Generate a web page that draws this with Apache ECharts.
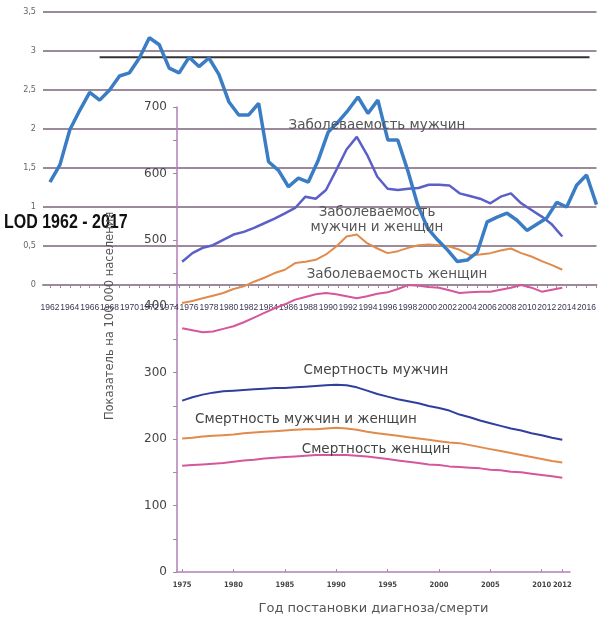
<!DOCTYPE html>
<html><head><meta charset="utf-8">
<script src="https://cdn.jsdelivr.net/npm/echarts@6/dist/echarts.min.js"></script>
<style>html,body{margin:0;padding:0;background:#fff}#c{width:599px;height:624px}</style>
</head><body><div id="c"></div>
<script>
// ---- Outer chart: LOD 1962-2017 ----
const lodYears = [1962,1963,1964,1965,1966,1967,1968,1969,1970,1971,1972,1973,1974,1975,1976,1977,1978,1979,1980,1981,1982,1983,1984,1985,1986,1987,1988,1989,1990,1991,1992,1993,1994,1995,1996,1997,1998,1999,2000,2001,2002,2003,2004,2005,2006,2007,2008,2009,2010,2011,2012,2013,2014,2015,2016,2017];
const lodValues = [1.32,1.54,1.99,2.24,2.47,2.37,2.5,2.68,2.72,2.91,3.17,3.08,2.78,2.72,2.92,2.8,2.91,2.7,2.35,2.18,2.18,2.33,1.58,1.47,1.26,1.37,1.32,1.6,1.96,2.09,2.24,2.41,2.2,2.37,1.86,1.86,1.47,1.03,0.73,0.58,0.45,0.3,0.32,0.42,0.81,0.87,0.92,0.83,0.7,0.78,0.86,1.06,1.0,1.28,1.41,1.03];
const refLineYears = [1967, 2016.3];
const refLineValue = 2.92;
const outerTickLabels = [1962,1964,1966,1968,1970,1972,1974,1976,1978,1980,1982,1984,1986,1988,1990,1992,1994,1996,1998,2000,2002,2004,2006,2008,2010,2012,2014,2016];

// ---- Inner chart: incidence / mortality per 100 000 ----
const innerYears = [1975,1976,1977,1978,1979,1980,1981,1982,1983,1984,1985,1986,1987,1988,1989,1990,1991,1992,1993,1994,1995,1996,1997,1998,1999,2000,2001,2002,2003,2004,2005,2006,2007,2008,2009,2010,2011,2012];
const incMen   = [467,480,488,492,500,508,512,518,525,532,540,548,565,562,575,605,636,655,628,595,577,575,577,578,583,583,582,570,566,562,555,565,570,555,545,535,523,505];
const incAll   = [405,408,412,416,420,426,430,437,443,450,455,465,467,470,478,490,505,508,495,487,480,483,488,492,493,492,490,485,477,478,480,484,487,480,475,468,462,455];
const incWomen = [367,364,361,362,366,370,376,383,390,397,403,410,414,418,420,418,415,412,415,419,421,426,432,431,429,428,424,420,421,422,422,425,428,432,428,422,425,428];
const mortMen  = [258,263,267,270,272,273,274,275,276,277,277,278,279,280,281,282,281,278,273,268,264,260,257,254,250,247,243,237,233,228,224,220,216,213,209,206,202,199];
const mortAll  = [201,202,204,205,206,207,209,210,211,212,213,214,215,215,216,217,216,214,211,209,207,205,203,201,199,197,195,194,191,188,185,182,179,176,173,170,167,165];
const mortWomen= [160,161,162,163,164,166,168,169,171,172,173,174,175,176,176,176,176,175,174,172,170,168,166,164,162,161,159,158,157,156,154,153,151,150,148,146,144,142];
const innerTickLabels = [1975,1980,1985,1990,1995,2000,2005,2010,2012];

const zip = (xs, ys) => xs.map((x, i) => [x, ys[i]]);
const chart = echarts.init(document.getElementById('c'), null, {renderer: 'canvas'});
const gridColor = '#9c8a9c';
const axisPurple = '#b27fb9';
const narrow = "'Liberation Sans Narrow','DejaVu Sans Condensed',sans-serif";
const wide = "'DejaVu Sans',sans-serif";

const innerLine = (name, data, color, w) => ({
  name, type: 'line', xAxisIndex: 1, yAxisIndex: 1, data: zip(innerYears, data),
  showSymbol: false, smooth: false, lineStyle: {color, width: w}, z: 3, silent: true
});
const label = (text, x, y, color) => ({type: 'text', x, y, z: 10,
  style: {text, fontSize: 13.5, fill: color || '#555', align: 'center', verticalAlign: 'middle', fontFamily: wide}});

chart.setOption({
  animation: false,
  backgroundColor: '#fff',
  grid: [
    {left: 43, right: 0, top: 12, bottom: 339},
    {left: 177, right: 29, top: 107, bottom: 52}
  ],
  xAxis: [
    {type: 'value', gridIndex: 0, min: 1961.3, max: 2017,
     axisLine: {show: true, lineStyle: {color: gridColor, width: 2}},
     axisTick: {show: true, customValues: lodYears, length: 3, lineStyle: {color: gridColor}},
     axisLabel: {customValues: outerTickLabels, fontSize: 8.5, fontFamily: "'Liberation Sans',sans-serif", color: '#3d3550', margin: 18,
       hideOverlap: false, formatter: v => String(v)},
     splitLine: {show: false}},
    {type: 'value', gridIndex: 1, min: 1974.5, max: 2012.75,
     axisLine: {show: true, lineStyle: {color: axisPurple, width: 1.5}},
     axisTick: {show: true, inside: true, customValues: innerTickLabels, length: 3, lineStyle: {color: axisPurple}},
     axisLabel: {customValues: innerTickLabels, fontSize: 7.5, color: '#444', margin: 9, fontWeight: 'bold', fontFamily: narrow,
       formatter: v => String(v)},
     splitLine: {show: false},
     name: 'Год постановки диагноза/смерти', nameLocation: 'middle', nameGap: 30,
     nameTextStyle: {fontSize: 13, color: '#555', fontFamily: wide}}
  ],
  yAxis: [
    {type: 'value', gridIndex: 0, min: 0, max: 3.5, interval: 0.5,
     axisLine: {show: false}, axisTick: {show: false},
     axisLabel: {fontSize: 9, fontFamily: narrow, color: '#666', margin: 7,
       formatter: v => String(v).replace('.', ',')},
     splitLine: {show: true, lineStyle: {color: gridColor, width: 2}}},
    {type: 'value', gridIndex: 1, min: 0, max: 700, interval: 50,
     axisLine: {show: true, lineStyle: {color: axisPurple, width: 1.5}},
     axisTick: {show: true, length: 4, lineStyle: {color: axisPurple}},
     axisLabel: {fontSize: 12, color: '#444', margin: 10, fontFamily: wide,
       formatter: v => (v % 100 === 0 ? String(v) : '')},
     splitLine: {show: false}}
  ],
  series: [
    innerLine('Заболеваемость мужчин', incMen, '#5b5fc7', 2.5),
    innerLine('Заболеваемость мужчин и женщин', incAll, '#e08b4c', 2),
    innerLine('Заболеваемость женщин', incWomen, '#d6569c', 2),
    innerLine('Смертность мужчин', mortMen, '#2f3f9f', 2),
    innerLine('Смертность мужчин и женщин', mortAll, '#e08b4c', 2),
    innerLine('Смертность женщин', mortWomen, '#d6569c', 2),
    {name: 'ref', type: 'line', xAxisIndex: 0, yAxisIndex: 0,
     data: refLineYears.map(y => [y, refLineValue]), showSymbol: false,
     lineStyle: {color: '#333', width: 2}, z: 4, silent: true},
    {name: 'LOD', type: 'line', xAxisIndex: 0, yAxisIndex: 0, data: zip(lodYears, lodValues),
     showSymbol: false, lineStyle: {color: '#3b7dc4', width: 3.5}, z: 5, silent: true}
  ],
  graphic: [
    {type: 'text', x: 4, y: 212, z: 10, scaleY: 1.3, style: {text: 'LOD 1962 - 2017', font: "bold 16px 'Liberation Sans Narrow', sans-serif", fill: '#111'}},
    {type: 'text', x: 110, y: 316, z: 10, rotation: Math.PI / 2,
     style: {text: 'Показатель на 100 000 населения', fontSize: 11.5, fill: '#555', align: 'center', verticalAlign: 'middle', fontFamily: wide}},
    label('Заболеваемость мужчин', 377, 125),
    label('Заболеваемость', 377, 212),
    label('мужчин и женщин', 377, 227),
    label('Заболеваемость женщин', 397, 274),
    label('Смертность мужчин', 376, 370, '#444'),
    label('Смертность мужчин и женщин', 306, 419, '#444'),
    label('Смертность женщин', 376, 449, '#444')
  ]
});
</script></body></html>
